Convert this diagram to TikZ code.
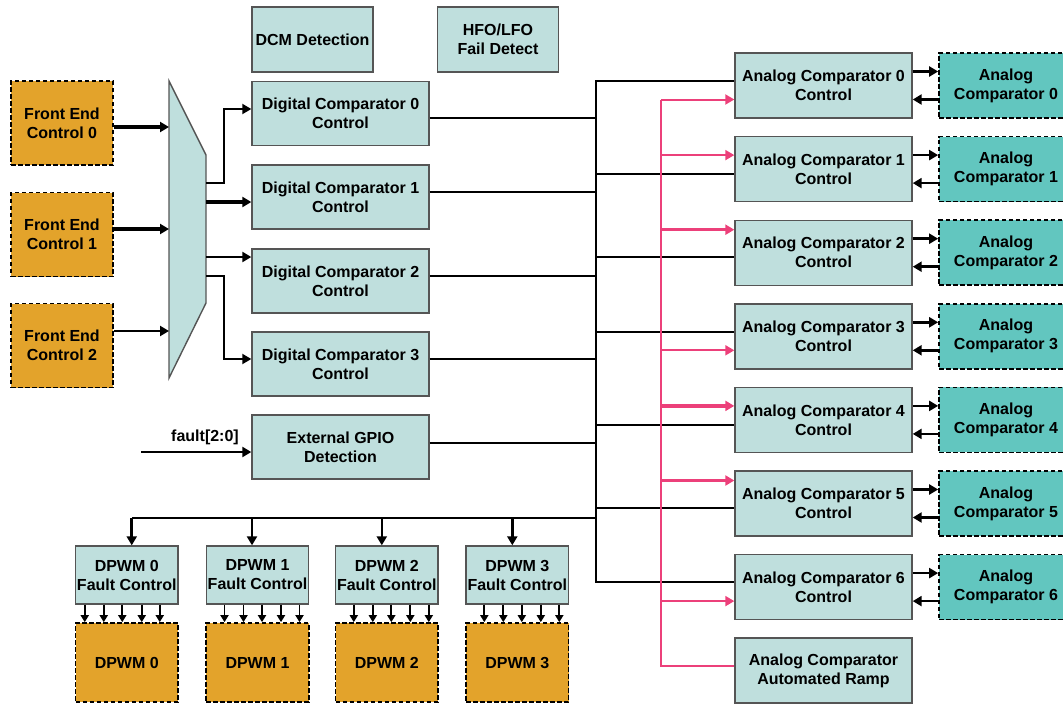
\documentclass[tikz,border=0pt]{standalone}
\usepackage{fontspec}
\setmainfont{Liberation Sans}
\usetikzlibrary{arrows.meta}
\definecolor{boxfill}{RGB}{191,223,221}
\definecolor{fefill}{RGB}{227,163,43}
\definecolor{acfill}{RGB}{98,198,191}
\definecolor{rampred}{RGB}{236,64,122}
\definecolor{edge}{RGB}{85,85,85}
\begin{document}
\begin{tikzpicture}[x=1pt,y=-1pt,
  font=\bfseries\fontsize{16}{19}\selectfont,
  blk/.style={draw=edge, line width=1.4pt, fill=boxfill, align=center, inner sep=0pt, minimum width=177pt, minimum height=65pt},
  ext/.style={draw, dashed, dash pattern=on 4.5pt off 2.5pt, line width=1.7pt, align=center, inner sep=0pt},
  fe/.style={ext, fill=fefill, minimum width=102pt, minimum height=84pt},
  acb/.style={ext, fill=acfill, minimum width=134pt, minimum height=65pt},
  fcb/.style={blk, minimum width=102.5pt, minimum height=58pt},
  dpb/.style={ext, fill=fefill, minimum width=102.5pt, minimum height=79pt},
  wire/.style={line width=1.9pt},
  arr/.style={line width=2pt, -{Triangle[length=9pt,width=10pt]}},
  arrM/.style={line width=2.6pt, -{Triangle[length=9pt,width=10pt]}},
  arrT/.style={line width=3.4pt, -{Triangle[length=9pt,width=10pt]}},
  sarr/.style={line width=1.8pt, -{Triangle[length=7pt,width=8pt]}},
  pk/.style={draw=rampred, line width=2pt, -{Triangle[length=9pt,width=10pt]}},
  pkT/.style={draw=rampred, line width=3.2pt, -{Triangle[length=9pt,width=10pt]}}]
\useasboundingbox (0,0) rectangle (1063,704);
\clip (0,0) rectangle (1063,704);
% top blocks
\node[blk, minimum width=121pt] (dcm) at (312.5,39.5) {DCM Detection};
\node[blk, minimum width=121pt] (hfo) at (498,39.5) {HFO/LFO\\Fail Detect};
% front ends
\node[fe] (fe0) at (62,123) {Front End\\Control 0};
\node[fe] (fe1) at (62,234.5) {Front End\\Control 1};
\node[fe] (fe2) at (62,345.5) {Front End\\Control 2};
% mux
\path[draw=edge, line width=1.4pt, fill=boxfill] (169,81) -- (206,155) -- (206,303) -- (169,378) -- cycle;
\coordinate (mi0) at (169,127);
\coordinate (mi1) at (169,229);
\coordinate (mi2) at (169,331);
\coordinate (mo0) at (206,183);
\coordinate (mo1) at (206,202);
\coordinate (mo2) at (206,257);
\coordinate (mo3) at (206,276);
% digital comparators
\node[blk, minimum height=64pt] (dc0) at (340.5,113.5) {Digital Comparator 0\\Control};
\node[blk, minimum height=64pt] (dc1) at (340.5,197) {Digital Comparator 1\\Control};
\node[blk, minimum height=64pt] (dc2) at (340.5,281) {Digital Comparator 2\\Control};
\node[blk, minimum height=64pt] (dc3) at (340.5,364) {Digital Comparator 3\\Control};
\node[blk, minimum height=64pt] (gpio) at (340.5,447) {External GPIO\\Detection};
\coordinate (fin) at (141,452);
\node (flt) at (205,437) {fault[2:0]};
% analog comparator controls
\node[blk] (acc0) at (823.5,85.5) {Analog Comparator 0\\Control};
\node[blk] (acc1) at (823.5,169.1) {Analog Comparator 1\\Control};
\node[blk] (acc2) at (823.5,252.7) {Analog Comparator 2\\Control};
\node[blk] (acc3) at (823.5,336.3) {Analog Comparator 3\\Control};
\node[blk] (acc4) at (823.5,419.9) {Analog Comparator 4\\Control};
\node[blk] (acc5) at (823.5,503.5) {Analog Comparator 5\\Control};
\node[blk] (acc6) at (823.5,587.1) {Analog Comparator 6\\Control};
\node[blk] (ramp) at (823.5,670.5) {Analog Comparator\\Automated Ramp};
% analog comparators
\node[acb] (ac0) at (1006,85.5) {Analog\\Comparator 0};
\node[acb] (ac1) at (1006,169.1) {Analog\\Comparator 1};
\node[acb] (ac2) at (1006,252.7) {Analog\\Comparator 2};
\node[acb] (ac3) at (1006,336.3) {Analog\\Comparator 3};
\node[acb] (ac4) at (1006,419.9) {Analog\\Comparator 4};
\node[acb] (ac5) at (1006,503.5) {Analog\\Comparator 5};
\node[acb] (ac6) at (1006,587.1) {Analog\\Comparator 6};
% fault controls and dpwms
\node[fcb] (fc0) at (126.75,575) {DPWM 0\\Fault Control};
\node[fcb] (fc1) at (257.5,575) {DPWM 1\\Fault Control};
\node[fcb] (fc2) at (386.8,575) {DPWM 2\\Fault Control};
\node[fcb] (fc3) at (517.3,575) {DPWM 3\\Fault Control};
\node[dpb] (dp0) at (126.75,662.5) {DPWM 0};
\node[dpb] (dp1) at (257.5,662.5) {DPWM 1};
\node[dpb] (dp2) at (386.8,662.5) {DPWM 2};
\node[dpb] (dp3) at (517.3,662.5) {DPWM 3};
\coordinate (bus) at (596,0);
\coordinate (fbus) at (596,518);
\coordinate (rbus) at (661,0);
% front end -> mux -> digital comparators
\path[draw,arrT] (fe0.east |- mi0) -- (mi0);
\path[draw,arrT] (fe1.east |- mi1) -- (mi1);
\path[draw,arrM] (fe2.east |- mi2) -- (mi2);
\path[draw,arr] (mo0) -- ++(18,0) |- ([yshift=4.5]dc0.west);
\path[draw,arrT] (mo1) -- (mo1 -| dc1.west);
\path[draw,arrM] (mo2) -- (mo2 -| dc2.west);
\path[draw,arr] (mo3) -- ++(18,0) |- ([yshift=5]dc3.west);
\path[draw,arrM] (fin) -- (fin -| gpio.west);
% fault bus
\path[draw,wire] ([yshift=-4.5]dc0.east) -- ([yshift=-4.5]dc0.east -| bus);
\path[draw,wire] ([yshift=5]dc1.east) -- ([yshift=5]dc1.east -| bus);
\path[draw,wire] ([yshift=5]dc2.east) -- ([yshift=5]dc2.east -| bus);
\path[draw,wire] ([yshift=5]dc3.east) -- ([yshift=5]dc3.east -| bus);
\path[draw,wire] ([yshift=4]gpio.east) -- ([yshift=4]gpio.east -| bus);
\path[draw,wire] ([yshift=4.5]acc0.west) -| ([yshift=5]acc6.west -| bus) -- ([yshift=5]acc6.west);
\path[draw,wire] ([yshift=-5]acc1.west -| bus) -- ([yshift=-5]acc1.west);
\path[draw,wire] ([yshift=-4.3]acc2.west -| bus) -- ([yshift=-4.3]acc2.west);
\path[draw,wire] ([yshift=4.3]acc3.west -| bus) -- ([yshift=4.3]acc3.west);
\path[draw,wire] ([yshift=-5]acc4.west -| bus) -- ([yshift=-5]acc4.west);
\path[draw,wire] ([yshift=-4.5]acc5.west -| bus) -- ([yshift=-4.5]acc5.west);
% to dpwm fault controls
\path[draw,line width=2.2pt] (fbus) -- ([xshift=5]fc0.north |- fbus);
\path[draw,arrM] ([xshift=5]fc0.north |- fbus) -- ([xshift=5]fc0.north);
\path[draw,arrM] ([xshift=-5.5]fc1.north |- fbus) -- ([xshift=-5.5]fc1.north);
\path[draw,arrM] ([xshift=-5]fc2.north |- fbus) -- ([xshift=-5]fc2.north);
\path[draw,arrM] ([xshift=-5]fc3.north |- fbus) -- ([xshift=-5]fc3.north);
\foreach \x in {-42,-23,-4.5,15,33}
  \path[draw,sarr] ([xshift=\x]fc0.south) -- ([xshift=\x]dp0.north);
\foreach \x in {-33,-14,4.5,23.5,42}{
  \path[draw,sarr] ([xshift=\x]fc1.south) -- ([xshift=\x]dp1.north);
  \path[draw,sarr] ([xshift=\x]fc2.south) -- ([xshift=\x]dp2.north);
  \path[draw,sarr] ([xshift=\x]fc3.south) -- ([xshift=\x]dp3.north);
}
% controls <-> analog comparators
\path[draw,arrM] ([yshift=14]acc0.east) -- ([yshift=14]acc0.east -| ac0.west);
\path[draw,arrM] ([yshift=-14]acc0.east -| ac0.west) -- ([yshift=-14]acc0.east);
\path[draw,arrM] ([yshift=14]acc1.east) -- ([yshift=14]acc1.east -| ac1.west);
\path[draw,arrM] ([yshift=-14]acc1.east -| ac1.west) -- ([yshift=-14]acc1.east);
\path[draw,arrM] ([yshift=14]acc2.east) -- ([yshift=14]acc2.east -| ac2.west);
\path[draw,arrM] ([yshift=-14]acc2.east -| ac2.west) -- ([yshift=-14]acc2.east);
\path[draw,arrM] ([yshift=14]acc3.east) -- ([yshift=14]acc3.east -| ac3.west);
\path[draw,arrM] ([yshift=-14]acc3.east -| ac3.west) -- ([yshift=-14]acc3.east);
\path[draw,arrM] ([yshift=14]acc4.east) -- ([yshift=14]acc4.east -| ac4.west);
\path[draw,arrM] ([yshift=-14]acc4.east -| ac4.west) -- ([yshift=-14]acc4.east);
\path[draw,arrM] ([yshift=14]acc5.east) -- ([yshift=14]acc5.east -| ac5.west);
\path[draw,arrM] ([yshift=-14]acc5.east -| ac5.west) -- ([yshift=-14]acc5.east);
\path[draw,arrM] ([yshift=14]acc6.east) -- ([yshift=14]acc6.east -| ac6.west);
\path[draw,arrM] ([yshift=-14]acc6.east -| ac6.west) -- ([yshift=-14]acc6.east);
% automated ramp
\path[draw=rampred, line width=2pt] ([yshift=4.5]ramp.west) -| ([yshift=-14]acc0.west -| rbus);
\path[pk] ([yshift=-14]acc0.west -| rbus) -- ([yshift=-14]acc0.west);
\path[pk] ([yshift=14]acc1.west -| rbus) -- ([yshift=14]acc1.west);
\path[pkT] ([yshift=23]acc2.west -| rbus) -- ([yshift=23]acc2.west);
\path[pk] ([yshift=-14]acc3.west -| rbus) -- ([yshift=-14]acc3.west);
\path[pkT] ([yshift=14]acc4.west -| rbus) -- ([yshift=14]acc4.west);
\path[pkT] ([yshift=23]acc5.west -| rbus) -- ([yshift=23]acc5.west);
\path[pk] ([yshift=-14]acc6.west -| rbus) -- ([yshift=-14]acc6.west);
\end{tikzpicture}
\end{document}
